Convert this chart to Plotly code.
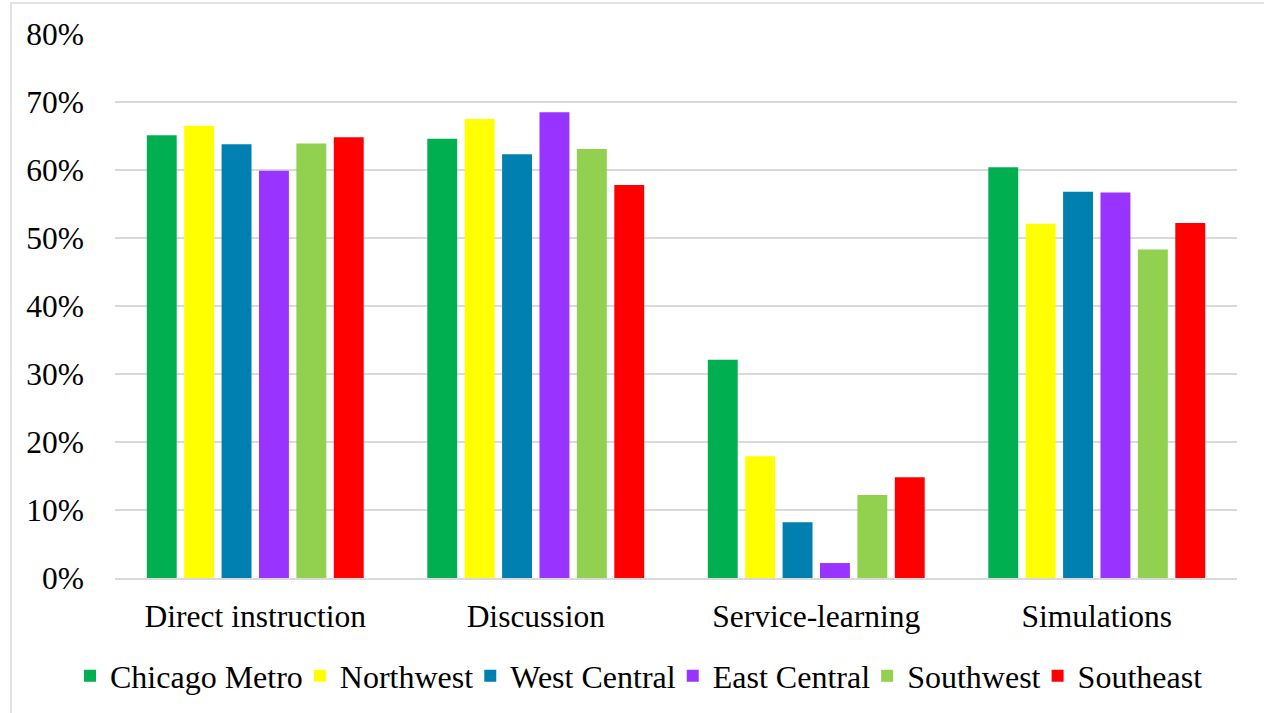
import plotly.graph_objects as go

categories = ["Direct instruction", "Discussion", "Service-learning", "Simulations"]
regions = ["Chicago Metro", "Northwest", "West Central", "East Central", "Southwest", "Southeast"]
colors = ["#00B050", "#FFFF00", "#007FB1", "#9933FF", "#92D050", "#FF0000"]

chicago_metro = [0.651, 0.646, 0.321, 0.604]
northwest = [0.665, 0.675, 0.179, 0.521]
west_central = [0.638, 0.623, 0.082, 0.568]
east_central = [0.599, 0.685, 0.022, 0.567]
southwest = [0.639, 0.631, 0.122, 0.483]
southeast = [0.648, 0.578, 0.148, 0.522]

series = [chicago_metro, northwest, west_central, east_central, southwest, southeast]

y_ticks = [0, 0.1, 0.2, 0.3, 0.4, 0.5, 0.6, 0.7, 0.8]

FONT = "Liberation Serif"
FS = 31.5

fig = go.Figure()
for name, vals, col in zip(regions, series, colors):
    fig.add_trace(go.Bar(name=name, x=categories, y=vals,
                         marker=dict(color=col, line=dict(width=0))))

fig.update_layout(
    width=1264, height=713,
    barmode="group", bargap=0.2, bargroupgap=0.2,
    plot_bgcolor="white", paper_bgcolor="white",
    margin=dict(l=115, r=27, t=34, b=135, pad=0, autoexpand=False),
    font=dict(family=FONT, size=FS, color="black"),
    legend=dict(orientation="h", x=(78 - 115) / 1122, xanchor="left", y=-0.18, yanchor="middle",
                font=dict(family=FONT, size=32), itemwidth=30, tracegroupgap=0,
                indentation=-8, traceorder="normal"),
    showlegend=True,
)
fig.update_yaxes(range=[0, 0.8], tickvals=y_ticks, tickformat=".0%",
                 showgrid=True, gridcolor="#D9D9D9", gridwidth=1.5,
                 zeroline=False, showline=False, ticks="",
                 ticklabelstandoff=30, tickfont=dict(family=FONT, size=FS))
fig.update_xaxes(showline=True, linecolor="#D9D9D9", linewidth=1.5, ticks="",
                 ticklabelstandoff=9, tickfont=dict(family=FONT, size=FS))

# outer chart-area border (partially cropped in the reference)
fig.add_shape(type="rect", xref="paper", yref="paper",
              x0=(11 - 115) / 1122, x1=1.05, y0=-0.3, y1=1 + (34 - 3) / 544,
              line=dict(color="#D9D9D9", width=1.5), fillcolor="rgba(0,0,0,0)",
              layer="below")

fig.write_html("out.html")
